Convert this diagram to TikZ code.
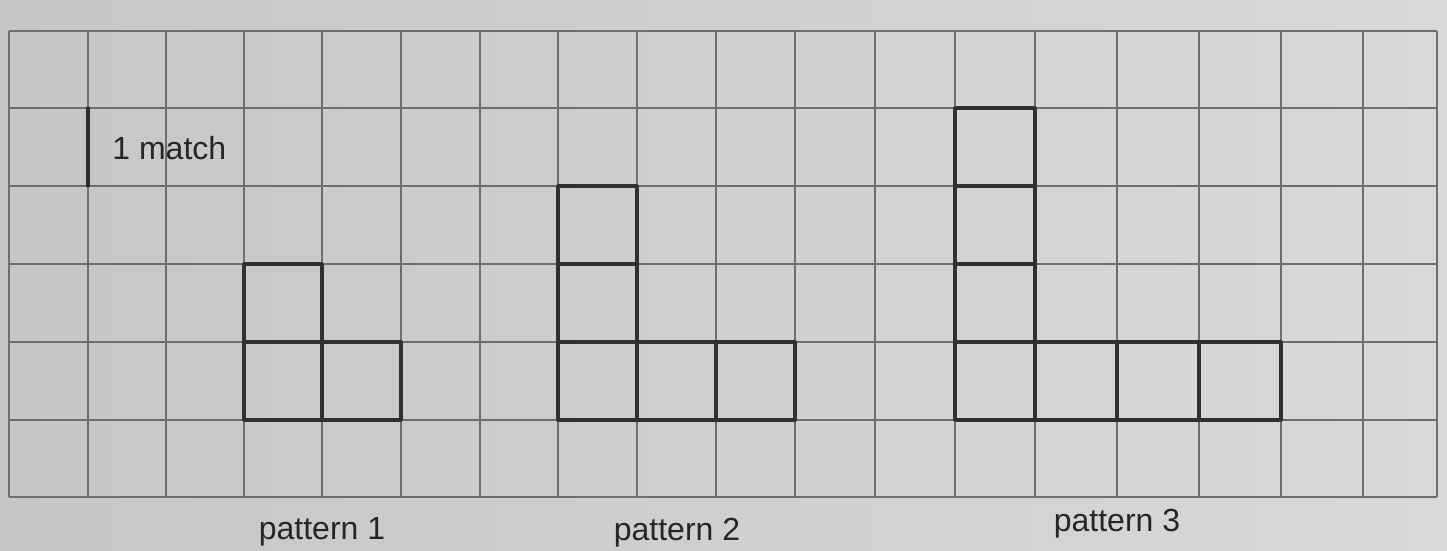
\documentclass[tikz,border=0pt]{standalone}
\usepackage{fontspec}
\setmainfont{Liberation Sans}
\definecolor{paperL}{HTML}{C6C6C6}
\definecolor{paperR}{HTML}{D9D9D9}
\definecolor{gridc}{HTML}{6E6E6E}
\definecolor{matchc}{HTML}{303030}
\tikzset{
  gridline/.style={draw=gridc, line width=0.6pt},
  matchline/.style={draw=matchc, line width=1.6pt, line cap=round, line join=round},
  lbl/.style={font=\fontsize{16}{18}\selectfont, text=black!85, inner sep=0pt}
}
\begin{document}
\begin{tikzpicture}[x=0.5pt,y=-0.5pt]
\useasboundingbox (0,0) rectangle (1447,551);
\shade[left color=paperL, right color=paperR] (0,0) rectangle (1447,551);
% grid
\foreach \x in {9,88,166,244,322,401,480,558,637,716,795,875,955,1035,1117,1199,1281,1363,1437}
  \draw[gridline] (\x,31) -- (\x,497);
\foreach \y in {31,108,186,264,342,420,497}
  \draw[gridline] (9,\y) -- (1437,\y);
% 1 match
\draw[matchline] (88,108) -- (88,186);
\node[lbl, anchor=west] (m) at (112,148) {1 match};
% pattern 1
\draw[matchline] (244,264) rectangle (322,342);
\draw[matchline] (244,342) rectangle (322,420);
\draw[matchline] (322,342) rectangle (401,420);
\node[lbl] (p1) at (322,532) {pattern 1};
% pattern 2
\draw[matchline] (558,186) rectangle (637,264);
\draw[matchline] (558,264) rectangle (637,342);
\draw[matchline] (558,342) rectangle (637,420);
\draw[matchline] (637,342) rectangle (716,420);
\draw[matchline] (716,342) rectangle (795,420);
\node[lbl] (p2) at (677,533) {pattern 2};
% pattern 3
\draw[matchline] (955,108) rectangle (1035,186);
\draw[matchline] (955,186) rectangle (1035,264);
\draw[matchline] (955,264) rectangle (1035,342);
\draw[matchline] (955,342) rectangle (1035,420);
\draw[matchline] (1035,342) rectangle (1117,420);
\draw[matchline] (1117,342) rectangle (1199,420);
\draw[matchline] (1199,342) rectangle (1281,420);
\node[lbl] (p3) at (1117,524) {pattern 3};
\end{tikzpicture}
\end{document}
